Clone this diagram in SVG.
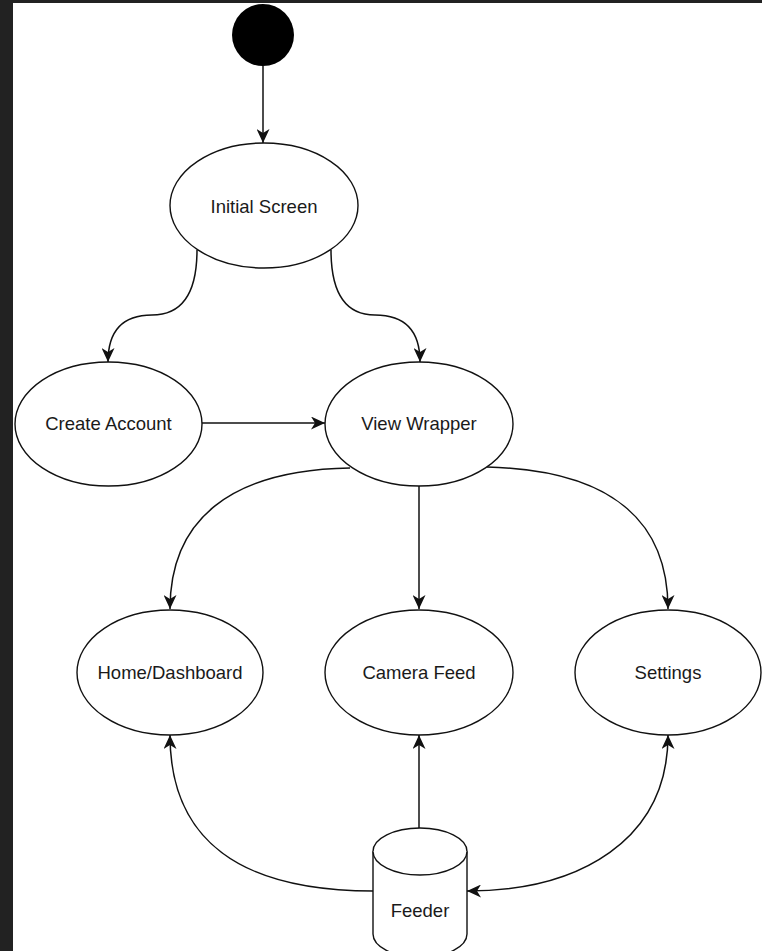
<svg xmlns="http://www.w3.org/2000/svg" width="762" height="951" viewBox="0 0 762 951">
  <style>
    .node { fill: #ffffff; stroke: #111111; stroke-width: 1.4; }
    .lbl { font-family: "Liberation Sans", Arial, sans-serif; font-size: 18.5px; fill: #1a1a1a; text-anchor: middle; dominant-baseline: central; }
    .edge { fill: none; stroke: #111111; stroke-width: 1.5; }
  </style>
  <defs>
    <marker id="arr" markerUnits="userSpaceOnUse" markerWidth="15" markerHeight="13" viewBox="0 0 15 13" refX="14" refY="6.5" orient="auto">
      <path d="M0,0 L14,6.5 L0,13 L4,6.5 Z" fill="#111111"/>
    </marker>
    <marker id="arrs" markerUnits="userSpaceOnUse" markerWidth="15" markerHeight="13" viewBox="0 0 15 13" refX="1" refY="6.5" orient="auto">
      <path d="M15,0 L1,6.5 L15,13 L11,6.5 Z" fill="#111111"/>
    </marker>
  </defs>
  <rect x="0" y="0" width="762" height="951" fill="#222222"/>
  <rect x="13" y="3" width="749" height="948" fill="#ffffff"/>

  <g id="connectors">
    <path class="edge" d="M263 66 L263 143" marker-end="url(#arr)"/>
    <path class="edge" d="M197 250 Q197 315 152 315 Q108 315 108 362" marker-end="url(#arr)"/>
    <path class="edge" d="M331 250 Q331 315 375 315 Q420 315 420 362" marker-end="url(#arr)"/>
    <path class="edge" d="M202 423 L325 423" marker-end="url(#arr)"/>
    <path class="edge" d="M350 468 C230 470 170 520 170 609" marker-end="url(#arr)"/>
    <path class="edge" d="M419 486 L419 609" marker-end="url(#arr)"/>
    <path class="edge" d="M487 467 C610 470 668 520 668 609" marker-end="url(#arr)"/>
    <path class="edge" d="M373 891 C240 891 170 840 170 735" marker-end="url(#arr)"/>
    <path class="edge" d="M419 828 L419 735" marker-end="url(#arr)"/>
    <path class="edge" d="M668 735 C668 840 580 891 467 891" marker-start="url(#arrs)" marker-end="url(#arr)"/>
  </g>

  <g id="start">
    <circle cx="263" cy="35" r="31" fill="#000000"/>
  </g>
  <g id="initial-screen">
    <ellipse class="node" cx="264" cy="205.5" rx="94" ry="62.5"/>
    <text class="lbl" x="264" y="206">Initial Screen</text>
  </g>
  <g id="create-account">
    <ellipse class="node" cx="108.5" cy="424" rx="93.5" ry="62"/>
    <text class="lbl" x="108.5" y="423">Create Account</text>
  </g>
  <g id="view-wrapper">
    <ellipse class="node" cx="419" cy="424" rx="94" ry="62"/>
    <text class="lbl" x="419" y="423">View Wrapper</text>
  </g>
  <g id="home-dashboard">
    <ellipse class="node" cx="170" cy="672.5" rx="93" ry="62.5"/>
    <text class="lbl" x="170" y="672">Home/Dashboard</text>
  </g>
  <g id="camera-feed">
    <ellipse class="node" cx="419" cy="672.5" rx="94" ry="62.5"/>
    <text class="lbl" x="419" y="672">Camera Feed</text>
  </g>
  <g id="settings">
    <ellipse class="node" cx="668" cy="672.5" rx="93" ry="62.5"/>
    <text class="lbl" x="668" y="672">Settings</text>
  </g>
  <g id="feeder">
    <path class="node" d="M373 851.5 A47 23.5 0 0 1 467 851.5 L467 934 A47 23.5 0 0 1 373 934 Z"/>
    <path class="node" fill="none" d="M373 851.5 A47 23.5 0 0 0 467 851.5"/>
    <text class="lbl" x="420" y="910">Feeder</text>
  </g>
</svg>
